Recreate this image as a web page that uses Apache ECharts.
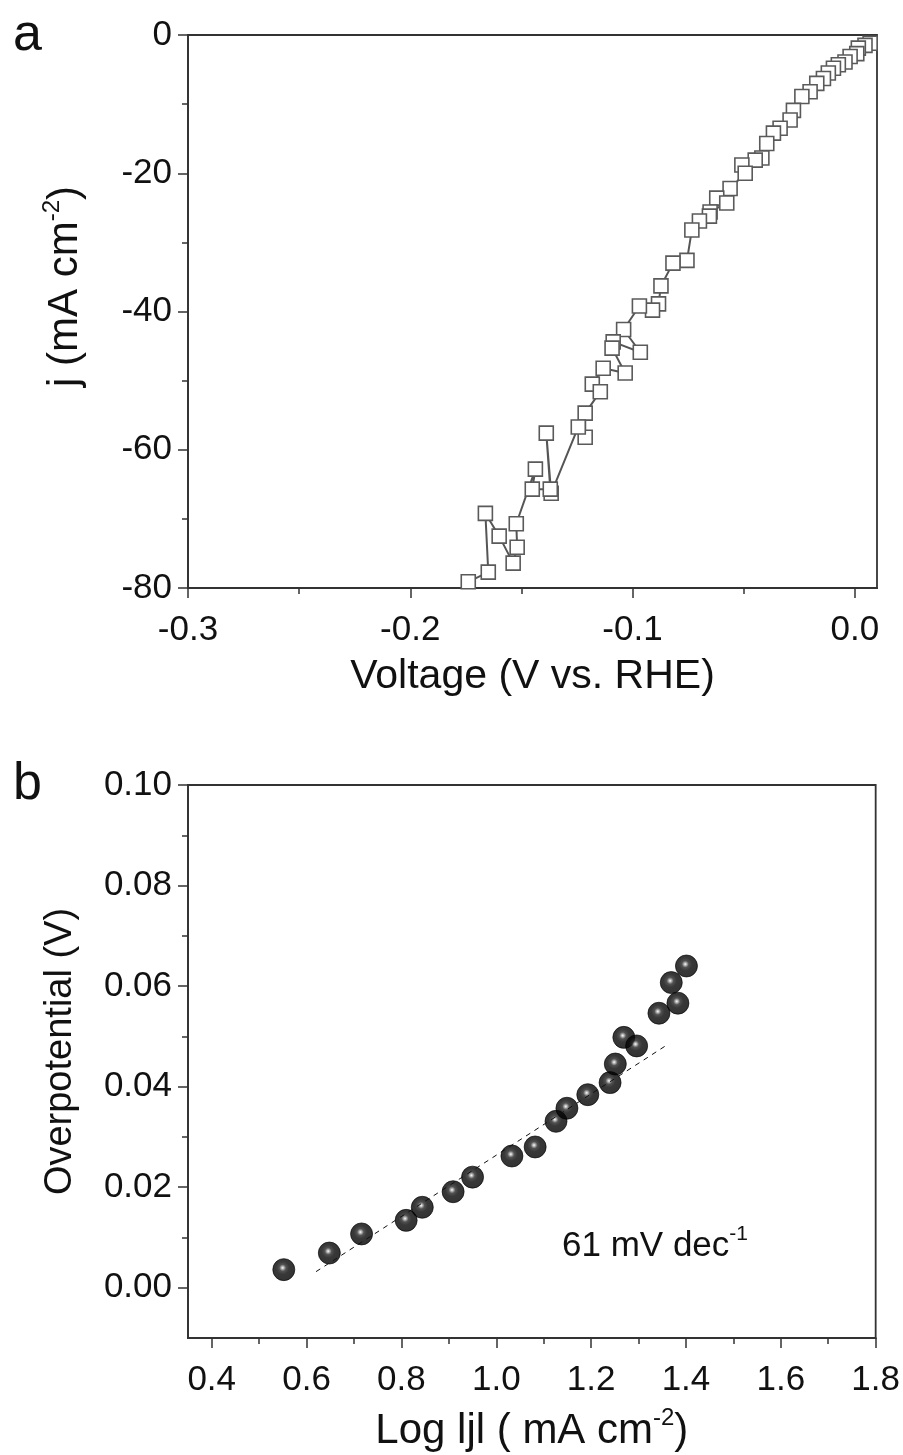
<!DOCTYPE html>
<html><head><meta charset="utf-8">
<script src="https://cdn.jsdelivr.net/npm/echarts@6/dist/echarts.min.js"></script>
<style>html,body{margin:0;padding:0;background:#fff}#c{width:903px;height:1455px}</style>
</head><body><div id="c"></div>
<script>
// ---- Panel a: LSV curve ----
const voltage = [0.0069,0.0046,0.0016,0.0009,-0.0021,-0.0044,-0.0074,-0.0096,-0.0119,-0.0141,-0.0171,-0.0201,-0.0238,-0.0276,-0.0291,-0.0336,-0.0366,-0.0396,-0.0418,-0.0448,-0.0508,-0.0493,-0.0561,-0.0621,-0.0576,-0.0651,-0.0654,-0.0699,-0.0733,-0.0755,-0.0818,-0.0872,-0.0883,-0.0910,-0.0969,-0.1040,-0.0965,-0.1087,-0.1092,-0.1033,-0.1132,-0.1181,-0.1145,-0.1213,-0.1213,-0.1244,-0.1366,-0.1388,-0.1370,-0.1451,-0.1437,-0.1523,-0.1519,-0.1537,-0.1600,-0.1662,-0.1649,-0.1739];
const currentDensity = [-1.2,-1.5,-1.9,-2.7,-3.1,-3.9,-4.3,-4.8,-5.5,-6.3,-7.0,-8.2,-8.9,-10.9,-12.3,-13.5,-14.2,-15.7,-17.8,-18.1,-18.8,-20.0,-22.2,-23.6,-24.3,-25.6,-26.2,-26.9,-28.2,-32.6,-33.0,-36.3,-38.9,-39.8,-39.2,-42.6,-45.9,-44.4,-45.3,-48.9,-48.2,-50.5,-51.6,-54.7,-58.2,-56.7,-66.3,-57.6,-65.7,-65.7,-62.8,-70.7,-74.1,-76.4,-72.5,-69.2,-77.7,-79.1];
const topXMajor = [-0.3,-0.2,-0.1,0.0];
const topXMinor = [-0.25,-0.15,-0.05];
const topYMajor = [0,-20,-40,-60,-80];
const topYMinor = [-10,-30,-50,-70];

// ---- Panel b: Tafel plot ----
const logJ = [0.552,0.648,0.716,0.810,0.844,0.909,0.950,1.033,1.082,1.126,1.149,1.193,1.240,1.251,1.269,1.296,1.343,1.383,1.369,1.401];
const overpotential = [0.0036,0.0069,0.0107,0.0134,0.0160,0.0191,0.0220,0.0262,0.0280,0.0331,0.0357,0.0384,0.0408,0.0445,0.0498,0.0481,0.0546,0.0566,0.0607,0.0640];
const fitLogJ = [0.62,1.36];
const fitOverpotential = [0.0032,0.0483];
const botXMajor = [0.4,0.6,0.8,1.0,1.2,1.4,1.6,1.8];
const botXMinor = [0.5,0.7,0.9,1.1,1.3,1.5,1.7];
const botYMajor = [0,0.02,0.04,0.06,0.08,0.10];
const botYMinor = [0.01,0.03,0.05,0.07,0.09];

const FONT = '"Liberation Sans", Arial, Helvetica, sans-serif';
const AX = '#333';
const TICK_FS = 35;

function richStyle(fs, sfs) {
  return {n:{fontFamily:FONT,fontSize:fs,color:'#111',lineHeight:fs+8},
          s:{fontFamily:FONT,fontSize:sfs,color:'#111',lineHeight:sfs+2,verticalAlign:'top'}};
}
function mainX(grid, min, max, major, dec, name, fs) {
  return {type:'value', gridIndex:grid, min, max, position:'bottom',
    name, nameLocation:'middle', nameGap:68,
    nameTextStyle:{fontFamily:FONT, fontSize:fs, color:'#111', rich:richStyle(fs,24)},
    axisLine:{onZero:false, lineStyle:{color:AX,width:1.8}},
    axisTick:{customValues:major, length:10, lineStyle:{color:AX,width:1.5}},
    axisLabel:{customValues:major, margin:25, fontFamily:FONT, fontSize:TICK_FS, color:'#111',
      formatter:v=>Number(v).toFixed(dec)},
    splitLine:{show:false}};
}
function minorX(grid, min, max, minor) {
  return {type:'value', gridIndex:grid, min, max, position:'bottom',
    axisLine:{show:false,onZero:false}, axisTick:{customValues:minor, length:6, lineStyle:{color:AX,width:1.5}},
    axisLabel:{show:false}, splitLine:{show:false}};
}
function mainY(grid, min, max, major, dec, name, pad, fs, gap) {
  return {type:'value', gridIndex:grid, min, max, position:'left',
    name, nameLocation:'middle', nameGap:gap, nameRotate:90,
    nameTextStyle:{fontFamily:FONT, fontSize:fs, color:'#111', padding:pad, rich:richStyle(fs,24)},
    axisLine:{onZero:false, lineStyle:{color:AX,width:1.8}},
    axisTick:{customValues:major, length:10, lineStyle:{color:AX,width:1.5}},
    axisLabel:{customValues:major, margin:16, fontFamily:FONT, fontSize:TICK_FS, color:'#111',
      formatter:v=>Number(v).toFixed(dec)},
    splitLine:{show:false}};
}
function minorY(grid, min, max, minor) {
  return {type:'value', gridIndex:grid, min, max, position:'left',
    axisLine:{show:false,onZero:false}, axisTick:{customValues:minor, length:6, lineStyle:{color:AX,width:1.5}},
    axisLabel:{show:false}, splitLine:{show:false}};
}

const chart = echarts.init(document.getElementById('c'), null, {renderer:'canvas'});
const ball = {type:'radial', x:0.45, y:0.42, r:0.58,
  colorStops:[{offset:0,color:'#ffffff'},{offset:0.1,color:'#a8a8a8'},{offset:0.26,color:'#262626'},{offset:0.5,color:'#060606'},{offset:1,color:'#000'}]};

chart.setOption({
  animation:false,
  backgroundColor:'#fff',
  grid:[
    {left:188, right:26, top:35, height:553, show:true, borderColor:AX, borderWidth:1.8, backgroundColor:'transparent'},
    {left:188, right:26, top:785, height:553, show:true, borderColor:AX, borderWidth:1.8, backgroundColor:'transparent'}
  ],
  xAxis:[
    mainX(0,-0.3,0.01,topXMajor,1,'Voltage (V vs. RHE)',41),
    minorX(0,-0.3,0.01,topXMinor),
    mainX(1,0.35,1.8,botXMajor,1,'{n|Log l}{n|j}{n|l ( mA cm}{s|-2}{n|)}',42),
    minorX(1,0.35,1.8,botXMinor)
  ],
  yAxis:[
    mainY(0,-80,0,topYMajor,0,'{n|j (mA cm}{s|-2}{n|)}',[0,0,0,50],42,98),
    minorY(0,-80,0,topYMinor),
    mainY(1,-0.01,0.10,botYMajor,2,'{n|Overpotential (V)}',[0,0,0,20],38,104),
    minorY(1,-0.01,0.10,botYMinor)
  ],
  series:[
    {type:'line', xAxisIndex:0, yAxisIndex:0, data:voltage.map((v,i)=>[v,currentDensity[i]]),
      symbol:'rect', symbolSize:14, showAllSymbol:true, clip:true,
      lineStyle:{color:'#555', width:2},
      itemStyle:{color:'#fff', borderColor:'#5a5a5a', borderWidth:1.6}},
    {type:'line', xAxisIndex:2, yAxisIndex:2, data:fitLogJ.map((v,i)=>[v,fitOverpotential[i]]),
      symbol:'none', lineStyle:{color:'#111', width:1, type:[5,5]}},
    {type:'scatter', xAxisIndex:2, yAxisIndex:2, data:logJ.map((v,i)=>[v,overpotential[i]]),
      symbol:'circle', symbolSize:22,
      itemStyle:{color:ball, borderColor:'#000', borderWidth:0.8}}
  ],
  graphic:[
    {type:'text', left:13, top:10, style:{text:'a', font:'52px '+FONT, fill:'#111'}},
    {type:'text', left:13, top:759, style:{text:'b', font:'52px '+FONT, fill:'#111'}},
    {type:'text', left:562, top:1224, style:{text:'{n|61 mV dec}{s|-1}', fill:'#111',
      rich:{n:{fontFamily:FONT,fontSize:35,lineHeight:44,fill:'#111'},
            s:{fontFamily:FONT,fontSize:21,lineHeight:23,verticalAlign:'top',fill:'#111'}}}}
  ]
});
</script></body></html>
